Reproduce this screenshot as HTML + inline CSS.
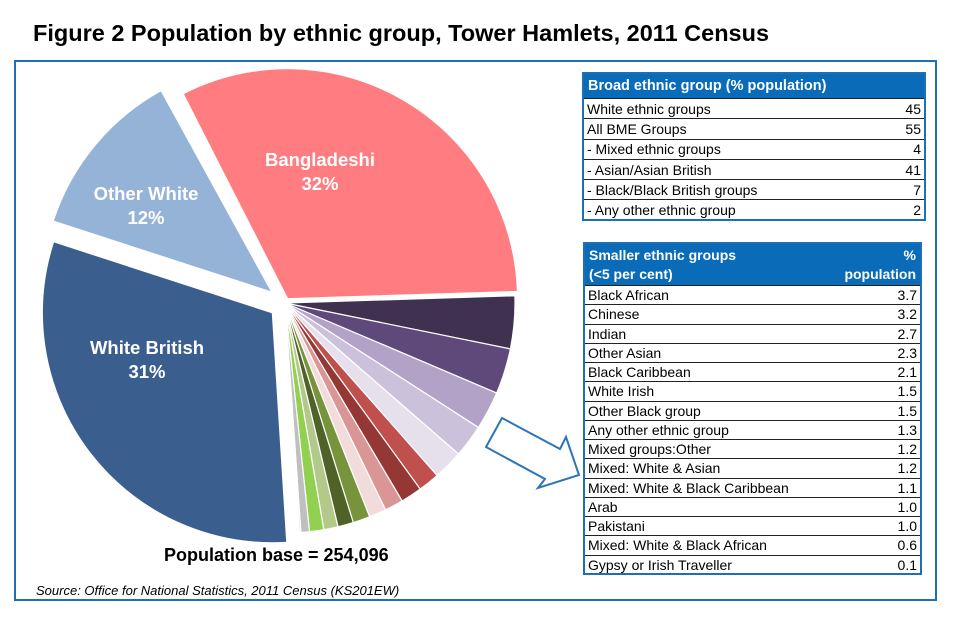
<!DOCTYPE html>
<html><head><meta charset="utf-8"><style>
body{margin:0;background:#fff;font-family:"Liberation Sans",Arial,sans-serif}
#wrap{position:relative;width:980px;height:639px;overflow:hidden}
.tbl{position:absolute;border:2px solid #1f6fb5;box-sizing:border-box;background:#fff}
.hd{background:#0a6bb8;color:#fff;font-weight:bold;font-size:14px;padding:0 4px;box-sizing:border-box}
.row{display:flex;justify-content:space-between;border-top:1px solid #222;font-size:14px;padding:0 3px 0 3px;box-sizing:border-box;align-items:center;color:#000}
</style></head><body>
<div id="wrap">
<div style="position:absolute;left:33px;top:20px;font-size:23.5px;font-weight:bold;color:#000">Figure 2 Population by ethnic group, Tower Hamlets, 2011 Census</div>
<div style="position:absolute;left:14px;top:60px;width:923px;height:541px;border:2px solid #1f6fb5;box-sizing:border-box"></div>
<svg id="pie" width="980" height="639" style="position:absolute;left:0;top:0"></svg>
<div style="position:absolute;left:164px;top:545px;font-size:18px;font-weight:bold">Population base = 254,096</div>
<div style="position:absolute;left:36px;top:583px;font-size:13px;font-style:italic">Source: Office for National Statistics, 2011 Census (KS201EW)</div>
<div class="tbl" id="t1" style="left:582px;top:72px;width:344px;height:149px">
<div class="hd" style="height:24px;line-height:24px;font-size:14.5px">Broad ethnic group (% population)</div>
</div>
<div class="tbl" id="t2" style="left:583px;top:242px;width:339px;height:333px">
<div class="hd" style="height:41px;display:flex;justify-content:space-between;line-height:19px;padding-top:2px"><span>Smaller ethnic groups<br>(&lt;5 per cent)</span><span style="text-align:right">%<br>population</span></div>
</div>
</div>
<script>
const broadLabels=["White ethnic groups","All BME Groups","- Mixed ethnic groups","- Asian/Asian British","- Black/Black British groups","- Any other ethnic group"];
const broadValues=["45","55","4","41","7","2"];
const smallLabels=["Black African","Chinese","Indian","Other Asian","Black Caribbean","White Irish","Other Black group","Any other ethnic group","Mixed groups:Other","Mixed: White & Asian","Mixed: White & Black Caribbean","Arab","Pakistani","Mixed: White & Black African","Gypsy or Irish Traveller"];
const smallValues=[3.7,3.2,2.7,2.3,2.1,1.5,1.5,1.3,1.2,1.2,1.1,1.0,1.0,0.6,0.1];
const bigLabels=["Bangladeshi","White British","Other White"];
const bigValues=[32,31,12];

function fillTable(id,labels,vals,h,fmt){
  const t=document.getElementById(id);
  labels.forEach((l,i)=>{
    const r=document.createElement('div');
    r.className='row';
    
    
    r.style.height=h+'px';
    r.innerHTML='<span>'+l+'</span><span>'+fmt(vals[i])+'</span>';
    t.appendChild(r);
  });
}
fillTable('t1',broadLabels,broadValues,20.3,v=>v);
fillTable('t2',smallLabels,smallValues,19.25,v=>v.toFixed(1));

const NS='http://www.w3.org/2000/svg';
const svg=document.getElementById('pie');
const cx=285,cy=303,R=230,start=-27;
const smallColors=["#403151","#5f497a","#b3a2c7","#ccc1da","#e6e0ec","#c0504d","#953735","#d99694","#f2dcdb","#77933c","#4f6228","#b3c98a","#92d050","#bfbfbf","#fac090"];
const slices=[{v:bigValues[0],c:"#ff7c80",lab:bigLabels[0],ex:5,lx:320,ly:166}];
smallValues.forEach((v,i)=>slices.push({v:v,c:smallColors[i],ex:0}));
slices.push({v:bigValues[1],c:"#3a5f8f",lab:bigLabels[1],ex:16,lx:147,ly:354});
slices.push({v:bigValues[2],c:"#95b3d7",lab:bigLabels[2],ex:17,lx:146,ly:200});
function pt(a,r,ox,oy){const t=(a-90)*Math.PI/180;return [ox+r*Math.cos(t),oy+r*Math.sin(t)];}
let a=start;
slices.forEach(s=>{
  const a0=a,a1=a+s.v*3.6;a=a1;
  const mid=(a0+a1)/2;
  const [ox,oy]=pt(mid,s.ex,cx,cy);
  const p0=pt(a0,R,ox,oy),p1=pt(a1,R,ox,oy);
  const large=(a1-a0)>180?1:0;
  const p=document.createElementNS(NS,'path');
  p.setAttribute('d',`M${ox},${oy}L${p0[0]},${p0[1]}A${R},${R} 0 ${large} 1 ${p1[0]},${p1[1]}Z`);
  p.setAttribute('fill',s.c);
  p.setAttribute('stroke','#fff');
  p.setAttribute('stroke-width','1.2');
  
  
  svg.appendChild(p);
  if(s.lab){
    const lx=s.lx,ly=s.ly;
    const t=document.createElementNS(NS,'text');
    t.setAttribute('x',lx);t.setAttribute('y',ly);
    t.setAttribute('text-anchor','middle');t.setAttribute('fill','#fff');
    t.setAttribute('font-size','18.5');t.setAttribute('font-weight','bold');
    t.setAttribute('font-family','Liberation Sans, Arial, sans-serif');
    
    
    t.innerHTML=`<tspan x="${lx}" dy="0">${s.lab}</tspan><tspan x="${lx}" dy="24">${s.v}%</tspan>`;
    svg.appendChild(t);
  }
});
const ar=document.createElementNS(NS,'polygon');
ar.setAttribute('points','502,418 560,449 566,437 579,475 538,488 545,479 486,447');
ar.setAttribute('fill','#fff');ar.setAttribute('stroke','#2e75b6');ar.setAttribute('stroke-width','2');


svg.appendChild(ar);
</script>
</body></html>
